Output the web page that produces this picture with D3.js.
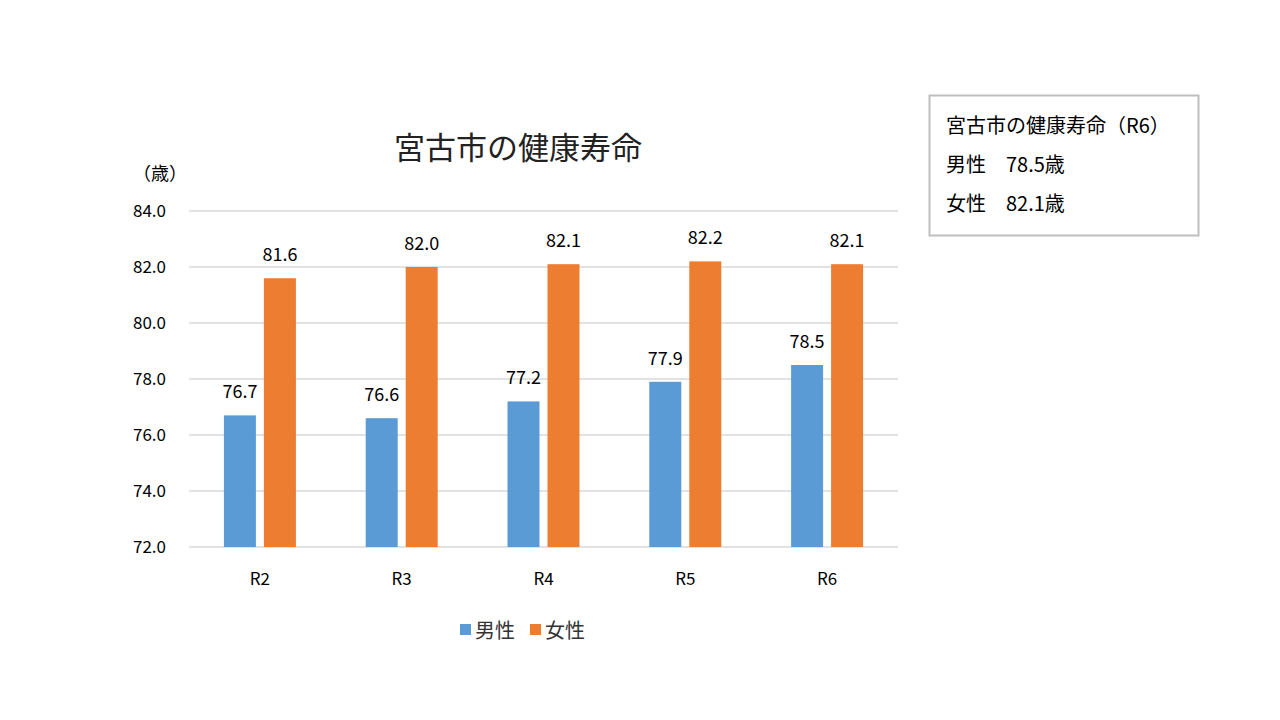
<!DOCTYPE html><html><head><meta charset="utf-8"><script src="https://d3js.org/d3.v7.min.js"></script>
<style>body{margin:0;background:#fff}text{font-family:"Noto Sans CJK JP","Noto Sans",sans-serif}</style></head><body>
<svg id="c" width="1280" height="720"></svg>
<script>
const categories=["R2","R3","R4","R5","R6"];
const male=[76.7,76.6,77.2,77.9,78.5];
const female=[81.6,82.0,82.1,82.2,82.1];
const seriesNames=["男性","女性"];
const colors=["#5B9BD5","#ED7D31"];
const yTicks=[72,74,76,78,80,82,84];
const svg=d3.select("#c");
const x=d3.scaleBand().domain(categories).range([189,898]);
const y=d3.scaleLinear().domain([72,84]).range([547,211]);
yTicks.forEach(t=>{
 svg.append("line").attr("x1",189).attr("x2",898).attr("y1",y(t)).attr("y2",y(t)).attr("stroke","#d9d9d9").attr("stroke-width",1.3);
 svg.append("text").attr("x",166).attr("y",y(t)+6).attr("text-anchor","end").attr("font-size",17).attr("fill","#000").text(t.toFixed(1));
});
const bw=32,gap=8;
[male,female].forEach((s,i)=>{
 s.forEach((v,j)=>{
  const cx=x(categories[j])+x.bandwidth()/2;
  const bx=cx+(i===0?-(gap/2+bw):gap/2);
  svg.append("rect").attr("x",bx).attr("y",y(v)).attr("width",bw).attr("height",y(72)-y(v)).attr("fill",colors[i]);
  svg.append("text").attr("x",bx+bw/2).attr("y",y(v)-17).attr("text-anchor","middle").attr("font-size",18).text(v.toFixed(1));
 });
});
categories.forEach(c=>svg.append("text").attr("x",x(c)+x.bandwidth()/2).attr("y",585).attr("text-anchor","middle").attr("font-size",17).text(c));
svg.append("text").attr("x",518).attr("y",159).attr("text-anchor","middle").attr("font-size",31).attr("fill","#222").text("宮古市の健康寿命");
svg.append("text").attr("x",160).attr("y",180).attr("text-anchor","middle").attr("font-size",18).text("（歳）");
seriesNames.forEach((n,i)=>{
 const lx=460+i*70;
 svg.append("rect").attr("x",lx).attr("y",624).attr("width",11).attr("height",11).attr("fill",colors[i]);
 svg.append("text").attr("x",lx+15).attr("y",638).attr("font-size",20).attr("fill","#333").text(n);
});
svg.append("rect").attr("x",929.5).attr("y",95.5).attr("width",269).attr("height",140).attr("fill","none").attr("stroke","#bfbfbf").attr("stroke-width",2);
["宮古市の健康寿命（R6）","男性　78.5歳","女性　82.1歳"].forEach((t,i)=>svg.append("text").attr("x",946).attr("y",133+i*39).attr("font-size",20).text(t));
</script></body></html>
